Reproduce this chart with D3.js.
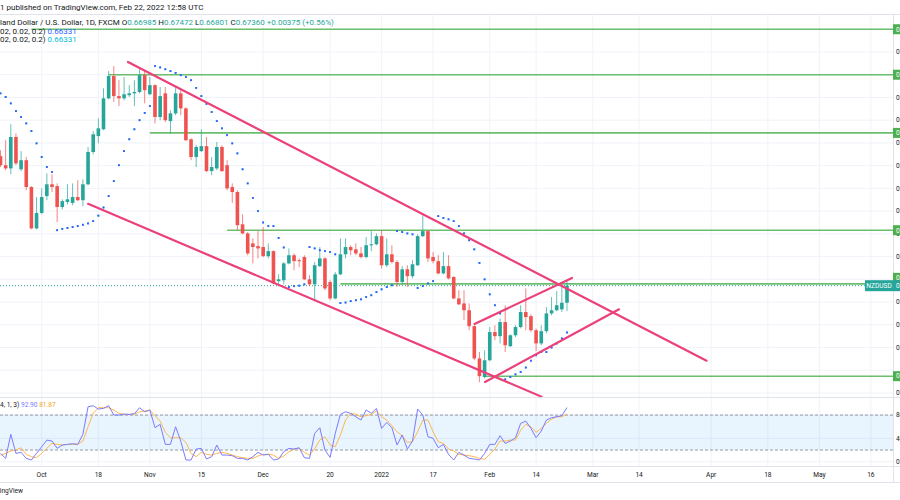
<!DOCTYPE html>
<html><head><meta charset="utf-8">
<script src="https://cdn.jsdelivr.net/npm/d3@7"></script>
<style>
html,body{margin:0;padding:0;background:#fff;overflow:hidden}
svg{display:block;font-family:Roboto,"Liberation Sans",sans-serif}
</style></head>
<body>
<svg id="c" width="900" height="500"></svg>
<script>
// ---------------- DATA ----------------
const startDate = "2021-09-21";
const opens = [0.7021,0.7001,0.6994,0.7063,0.6992,0.7012,0.6953,0.6862,0.6896,0.6933,
0.6959,0.6955,0.6909,0.6920,0.6918,0.6931,0.6924,0.6959,0.7030,0.7065,
0.7080,0.7148,0.7197,0.7153,0.7148,0.7155,0.7159,0.7162,0.7199,0.7157,
0.7177,0.7107,0.7159,0.7098,0.7115,0.7159,0.7126,0.7058,0.7019,0.7032,
0.7043,0.6988,0.6994,0.7041,0.7001,0.6953,0.6942,0.6871,0.6851,0.6829,
0.6823,0.6821,0.6801,0.6812,0.6746,0.6748,0.6785,0.6803,0.6792,0.6799,
0.6750,0.6739,0.6779,0.6796,0.6744,0.6708,0.6761,0.6805,0.6821,0.6816,
0.6807,0.6799,0.6825,0.6827,0.6845,0.6781,0.6805,0.6788,0.6744,0.6772,
0.6757,0.6781,0.6845,0.6856,0.6799,0.6790,0.6763,0.6779,0.6755,0.6708,
0.6697,0.6682,0.6647,0.6576,0.6535,0.6572,0.6634,0.6625,0.6656,0.6603,
0.6627,0.6645,0.6678,0.6669,0.6638,0.6609,0.6636,0.6675,0.6682,0.6684,
0.66985];
const highs = [0.7034,0.7056,0.7091,0.7071,0.7032,0.7019,0.6955,0.6931,0.6950,0.6983,
0.6981,0.6961,0.6926,0.6959,0.6961,0.6968,0.6970,0.7041,0.7076,0.7104,
0.7170,0.7208,0.7219,0.7188,0.7195,0.7177,0.7188,0.7214,0.7210,0.7195,
0.7179,0.7173,0.7173,0.7122,0.7173,0.7166,0.7128,0.7060,0.7045,0.7080,
0.7063,0.7019,0.7052,0.7045,0.7012,0.6961,0.6946,0.6893,0.6854,0.6840,
0.6856,0.6865,0.6829,0.6814,0.6761,0.6788,0.6818,0.6807,0.6796,0.6803,
0.6759,0.6788,0.6821,0.6799,0.6748,0.6766,0.6840,0.6840,0.6825,0.6829,
0.6821,0.6843,0.6856,0.6851,0.6858,0.6840,0.6825,0.6792,0.6779,0.6781,
0.6792,0.6849,0.6891,0.6858,0.6810,0.6803,0.6810,0.6803,0.6757,0.6726,
0.6726,0.6697,0.6649,0.6590,0.6594,0.6645,0.6649,0.6664,0.6693,0.6629,
0.6649,0.6693,0.6730,0.6673,0.6642,0.6649,0.6689,0.6711,0.6724,0.6737,
0.67472];
const lows = [0.6997,0.6990,0.6981,0.7001,0.6988,0.6946,0.6860,0.6860,0.6893,0.6924,
0.6942,0.6876,0.6904,0.6915,0.6913,0.6922,0.6911,0.6957,0.7025,0.7049,
0.7078,0.7146,0.7140,0.7131,0.7144,0.7151,0.7131,0.7159,0.7137,0.7155,
0.7093,0.7100,0.7096,0.7071,0.7111,0.7111,0.7054,0.7012,0.6997,0.7030,
0.6986,0.6979,0.6990,0.6986,0.6946,0.6918,0.6858,0.6849,0.6803,0.6785,
0.6796,0.6799,0.6796,0.6739,0.6735,0.6739,0.6783,0.6770,0.6777,0.6748,
0.6735,0.6702,0.6777,0.6726,0.6704,0.6706,0.6759,0.6796,0.6803,0.6803,
0.6796,0.6796,0.6812,0.6825,0.6774,0.6777,0.6785,0.6733,0.6739,0.6733,
0.6752,0.6779,0.6843,0.6788,0.6785,0.6761,0.6761,0.6750,0.6706,0.6693,
0.6660,0.6638,0.6572,0.6524,0.6532,0.6570,0.6616,0.6609,0.6590,0.6601,
0.6623,0.6642,0.6638,0.6634,0.6592,0.6605,0.6631,0.6671,0.6680,0.6678,
0.66801];
const closes = [0.7001,0.6994,0.7063,0.7005,0.7012,0.6953,0.6862,0.6896,0.6931,0.6959,
0.6953,0.6909,0.6922,0.6926,0.6931,0.6924,0.6959,0.7030,0.7069,0.7082,
0.7148,0.7197,0.7153,0.7148,0.7157,0.7159,0.7162,0.7199,0.7166,0.7177,
0.7107,0.7153,0.7100,0.7115,0.7159,0.7126,0.7056,0.7019,0.7041,0.7043,
0.6988,0.6997,0.7041,0.6988,0.6950,0.6942,0.6869,0.6851,0.6807,0.6821,
0.6818,0.6801,0.6812,0.6741,0.6750,0.6785,0.6803,0.6790,0.6790,0.6750,
0.6739,0.6781,0.6796,0.6730,0.6708,0.6761,0.6805,0.6821,0.6814,0.6807,
0.6799,0.6825,0.6827,0.6845,0.6781,0.6805,0.6788,0.6744,0.6772,0.6757,
0.6783,0.6845,0.6856,0.6796,0.6790,0.6763,0.6779,0.6752,0.6708,0.6695,
0.6682,0.6647,0.6576,0.6537,0.6572,0.6634,0.6625,0.6656,0.6605,0.6627,
0.6645,0.6678,0.6667,0.6638,0.6609,0.6636,0.6675,0.6682,0.6693,0.66985,
0.67360];
// Parabolic SAR dots
const sar = [0.7159,0.7151,0.7137,0.7120,0.7107,0.7093,0.7076,0.7049,0.7019,0.6997,
0.6986,0.6858,0.6861,0.6863,0.6865,0.6867,0.6870,0.6873,0.6878,0.6890,
0.6908,0.6933,0.6966,0.7001,0.7032,0.7058,0.7080,0.7100,0.7116,0.7131,
0.7219,0.7216,0.7212,0.7208,0.7204,0.7199,0.7195,0.7188,0.7171,0.7153,
0.7136,0.7118,0.7098,0.7082,0.7067,0.7049,0.7027,0.6992,0.6961,0.6929,
0.6900,0.6875,0.6867,0.6867,0.6841,0.6820,0.6733,0.6735,0.6736,0.6739,
0.6821,0.6818,0.6814,0.6812,0.6810,0.6805,0.6698,0.6699,0.6702,0.6704,
0.6706,0.6711,0.6715,0.6722,0.6728,0.6733,0.6737,0.6856,0.6854,0.6851,
0.6849,0.6731,0.6735,0.6741,0.6746,0.6889,0.6885,0.6882,0.6878,0.6867,
0.6851,0.6836,0.6816,0.6786,0.6750,0.6717,0.6693,0.6675,0.6530,0.6535,
0.6541,0.6546,0.6556,0.6571,0.6583,0.6590,0.6590,0.6600,0.6609,0.6620,
0.66331];
// Stochastic (14,1,3)
const stochK = [14.3,5.7,46.9,14.3,16,5.7,2.9,14.3,25.7,37.1,
35.4,22.9,28.6,29.7,30.9,29.7,46.9,94.3,96,90.3,
91.4,96,80,80,81.7,81.1,82.3,92.6,85.7,88.6,
58.3,64,29.7,29.7,60,35.4,2.9,2.9,21.7,22.9,
4.6,8.6,28.6,11.4,11.4,10.3,5.7,5.7,2.9,8.6,
16,11.4,12.6,2.9,4.6,17.1,22.9,21.7,24,6.9,
5.7,48.6,58.3,20,7.4,48.6,81.1,85.7,82.9,77.1,
71.4,88.6,82.9,91.4,57.1,67.4,58.3,28.6,45.7,21.7,
35.4,90.3,80,42.9,40,24,29.7,12.6,2.9,16,
11.4,5.7,4.6,2.9,14.3,29.7,29.7,44.6,31.4,35.4,
41.1,65.7,69.7,57.1,41.1,52.6,71.4,75.4,77.1,78.9,
92.9];
const stochD = [11.4,14.3,18.3,20,24,12.6,8.6,6.9,14.3,22.9,
31.4,29.7,28.6,29.7,29.7,29.7,35.4,60,82.9,92.6,
92.6,92.6,88.6,82.9,81.1,81.1,81.7,85.7,86.9,88.6,
78.9,69.7,50.3,41.1,41.1,41.1,33.1,14.3,8.6,16,
12.6,11.4,14.3,16,14.3,11.4,8.6,6.9,5.7,5.7,
9.7,12.6,12.6,11.4,5.7,9.7,17.1,21.7,22.9,16,
11.4,21.7,37.1,42.9,28.6,25.7,45.7,71.4,82.9,81.1,
77.1,78.9,81.1,86.9,77.1,71.4,61.7,51.4,44.6,33.1,
34.3,51.4,71.4,71.4,51.4,34.3,31.4,21.7,18.3,12.6,
11.4,10.3,8.6,5.7,4,12.6,21.7,35.4,35.4,37.1,
37.1,54.3,64,60,50.3,57.1,65.7,73.1,77.1,77.1,
81.87];
// Horizontal levels: price and starting bar index
const levelPrices = [0.7300,0.7200,0.7072,0.6858,0.6740,0.6537];
const levelStart  = [6,21,29,44,66,94];
// Trend lines: [barIndex, price] pairs
const trendA = [[24.75,0.7228],[137.1,0.6571]];
const trendB = [[17.0,0.6916],[105.05,0.6492]];
const trendC = [[92.04,0.6652],[110.97,0.6753]];
const trendD = [[94.08,0.6524],[120.1,0.6684]];
// Time axis
const tickLabels = ["Oct","18","Nov","15","Dec","20","2022","17","Feb","14","Mar","14","Apr","18","May","16"];
const tickDates  = ["2021-10-01","2021-10-18","2021-11-01","2021-11-15","2021-12-01","2021-12-20","2022-01-03","2022-01-17","2022-02-01","2022-02-14","2022-03-01","2022-03-14","2022-04-01","2022-04-18","2022-05-02","2022-05-16"];
const priceTicks = d3.range(0.650, 0.7301, 0.005);
const stochTicks = [0,40,80];

// ---------------- HELPERS ----------------
const parse = d3.timeParse("%Y-%m-%d");
const t0 = parse(startDate);
function barIndex(ds){
  return d3.timeDay.range(t0, parse(ds)).filter(d => d.getDay()%6 !== 0).length;
}
const svg = d3.select("#c");
const W = 900, axisX = 893;
const x = d3.scaleLinear().domain([0,173.3]).range([0.5, axisX]);
const y = d3.scaleLinear().domain([0.65,0.73]).range([393, 29.24]);
const ys = d3.scaleLinear().domain([0,100]).range([461.7, 403.4]);
const FS = 6.6, FL = 8;
const txt = "#131722";
const up = "#26a69a", dn = "#ef5350";

svg.append("defs").append("clipPath").attr("id","pc").append("rect")
  .attr("x",0).attr("y",15).attr("width",axisX).attr("height",382);
svg.select("defs").append("clipPath").attr("id","sc").append("rect")
  .attr("x",0).attr("y",398).attr("width",axisX).attr("height",68);

// header
svg.append("text").attr("x",0).attr("y",10).attr("font-size",FL).attr("fill",txt)
  .text("1 published on TradingView.com, Feb 22, 2022 12:58 UTC");
svg.append("line").attr("x1",0).attr("x2",W).attr("y1",14.5).attr("y2",14.5).attr("stroke","#e0e3eb");

// grids
const gGrid = svg.append("g");
priceTicks.forEach(p => gGrid.append("line").attr("x1",0).attr("x2",axisX)
  .attr("y1",y(p)).attr("y2",y(p)).attr("stroke","#f0f3fa").attr("stroke-width",1));
tickDates.forEach(ds => { const xi = x(barIndex(ds));
  gGrid.append("line").attr("x1",xi).attr("x2",xi).attr("y1",15).attr("y2",467)
    .attr("stroke","#f0f3fa").attr("stroke-width",1); });
stochTicks.forEach(v => gGrid.append("line").attr("x1",0).attr("x2",axisX)
  .attr("y1",ys(v)).attr("y2",ys(v)).attr("stroke","#f0f3fa"));

// main plot
const gMain = svg.append("g").attr("clip-path","url(#pc)");
const lastP = closes[closes.length-1];
gMain.append("line").attr("x1",0).attr("x2",axisX).attr("y1",y(lastP)).attr("y2",y(lastP))
  .attr("stroke",up).attr("stroke-dasharray","1,2").attr("stroke-width",1);
levelPrices.forEach((p,k) => gMain.append("line").attr("x1",x(levelStart[k])).attr("x2",axisX)
  .attr("y1",y(p)).attr("y2",y(p)).attr("stroke","#5cb85f").attr("stroke-width",1.6).attr("opacity",0.9));
const bw = 3.6;
opens.forEach((o,i) => {
  const c = closes[i], col = c >= o ? up : dn, xi = x(i);
  gMain.append("line").attr("x1",xi).attr("x2",xi).attr("y1",y(highs[i])).attr("y2",y(lows[i]))
    .attr("stroke",col).attr("stroke-width",1).attr("opacity",0.7);
  const top = y(Math.max(o,c)), bot = y(Math.min(o,c));
  gMain.append("rect").attr("x",xi-bw/2).attr("y",top).attr("width",bw).attr("height",Math.max(1,bot-top)).attr("fill",col);
});
["#00bcd4","#3d5afe"].forEach(col => {
  gMain.selectAll(null).data(sar).enter().append("rect")
    .attr("x",(d,i)=>x(i)-0.9).attr("y",d=>y(d)-0.9).attr("width",1.8).attr("height",1.8).attr("fill",col);
});
[trendA,trendB,trendC,trendD].forEach(t => gMain.append("line")
  .attr("x1",x(t[0][0])).attr("y1",y(t[0][1])).attr("x2",x(t[1][0])).attr("y2",y(t[1][1]))
  .attr("stroke","#ec407a").attr("stroke-width",2.2).attr("stroke-linecap","round"));

// legend
const lg = svg.append("g").attr("font-size",FL);
const l1 = lg.append("text").attr("x",0).attr("y",24.5).attr("fill",txt);
l1.append("tspan").text("land Dollar / U.S. Dollar, 1D, FXCM  ");
[["O","0.66985"],["H","0.67472"],["L","0.66801"],["C","0.67360"]].forEach(a=>{
  l1.append("tspan").text(a[0]); l1.append("tspan").attr("fill",up).text(a[1]+"  ");});
l1.append("tspan").attr("fill",up).text("+0.00375 (+0.56%)");
const l2 = lg.append("text").attr("x",0).attr("y",33.5).attr("fill",txt);
l2.append("tspan").text("02, 0.02, 0.2)  "); l2.append("tspan").attr("fill","#2962ff").text("0.66331");
const l3 = lg.append("text").attr("x",0).attr("y",42).attr("fill",txt);
l3.append("tspan").text("02, 0.02, 0.2)  "); l3.append("tspan").attr("fill","#00bcd4").text("0.66331");

// price axis
svg.append("line").attr("x1",axisX+0.5).attr("x2",axisX+0.5).attr("y1",15).attr("y2",482).attr("stroke","#e0e3eb");
const labelOffset = [0,0,0,0,-6,0];
const levelLabelY = levelPrices.map((p,k) => y(p)+labelOffset[k]);
priceTicks.forEach(p => {
  const yy = y(p);
  // ticks hidden behind the level labels
  if (levelLabelY.some(ly => Math.abs(ly-yy) < 2 || (Math.abs(ly-yy) < 6.5 && ly > yy))) return;
  svg.append("text").attr("x",axisX+3).attr("y",yy+2.3).attr("font-size",FS).attr("fill",txt).text(p.toFixed(4));
});
levelPrices.forEach((p,k) => {
  const yy = levelLabelY[k];
  svg.append("rect").attr("x",axisX).attr("y",yy-5).attr("width",40).attr("height",10).attr("fill","#4caf50");
  svg.append("text").attr("x",axisX+3).attr("y",yy+2.3).attr("font-size",FS).attr("fill","#fff").text(p.toFixed(4));
});
const lastY = y(lastP);
svg.append("rect").attr("x",865).attr("y",lastY-5.5).attr("width",28).attr("height",11).attr("fill",up);
svg.append("text").attr("x",879).attr("y",lastY+2.3).attr("text-anchor","middle").attr("font-size",FS).attr("fill","#fff").text("NZDUSD");
svg.append("rect").attr("x",axisX).attr("y",lastY-5.5).attr("width",40).attr("height",11).attr("fill",up);
svg.append("text").attr("x",axisX+3).attr("y",lastY+2.3).attr("font-size",FS).attr("fill","#fff").text(lastP.toFixed(5));

svg.append("line").attr("x1",0).attr("x2",W).attr("y1",397.5).attr("y2",397.5).attr("stroke","#e0e3eb");

// stochastic pane
const gS = svg.append("g").attr("clip-path","url(#sc)");
gS.append("rect").attr("x",0).attr("y",ys(80)).attr("width",axisX).attr("height",ys(20)-ys(80)).attr("fill","rgba(33,150,243,0.1)");
[80,20].forEach(v => gS.append("line").attr("x1",0).attr("x2",axisX).attr("y1",ys(v)).attr("y2",ys(v))
  .attr("stroke","#9598a1").attr("stroke-dasharray","3,2").attr("stroke-width",1));
const lineK = d3.line().x((d,i)=>x(i)).y(d=>ys(d));
gS.append("path").attr("d",lineK(stochD)).attr("fill","none").attr("stroke","#ffb74d").attr("stroke-width",1);
gS.append("path").attr("d",lineK(stochK)).attr("fill","none").attr("stroke","#7b7bff").attr("stroke-width",1);
const sl = svg.append("text").attr("x",0).attr("y",407).attr("font-size",FS).attr("fill",txt);
sl.append("tspan").text("4, 1, 3)  ");
sl.append("tspan").attr("fill","#7b7bff").text("92.90  ");
sl.append("tspan").attr("fill","#f5a623").text("81.87");
stochTicks.forEach(v => svg.append("text").attr("x",axisX+3).attr("y",ys(v)+2.3)
  .attr("font-size",FS).attr("fill",txt).text(v.toFixed(2)));

// time axis
svg.append("line").attr("x1",0).attr("x2",W).attr("y1",466.5).attr("y2",466.5).attr("stroke","#e0e3eb");
svg.append("line").attr("x1",0).attr("x2",W).attr("y1",482.5).attr("y2",482.5).attr("stroke","#e0e3eb");
tickLabels.forEach((lab,k) => svg.append("text").attr("x",x(barIndex(tickDates[k]))).attr("y",477)
  .attr("text-anchor","middle").attr("font-size",FS).attr("fill",txt).text(lab));
svg.append("text").attr("x",23).attr("y",493).attr("text-anchor","end").attr("font-size",FS).attr("fill",txt).text("TradingView");
</script>
</body></html>
